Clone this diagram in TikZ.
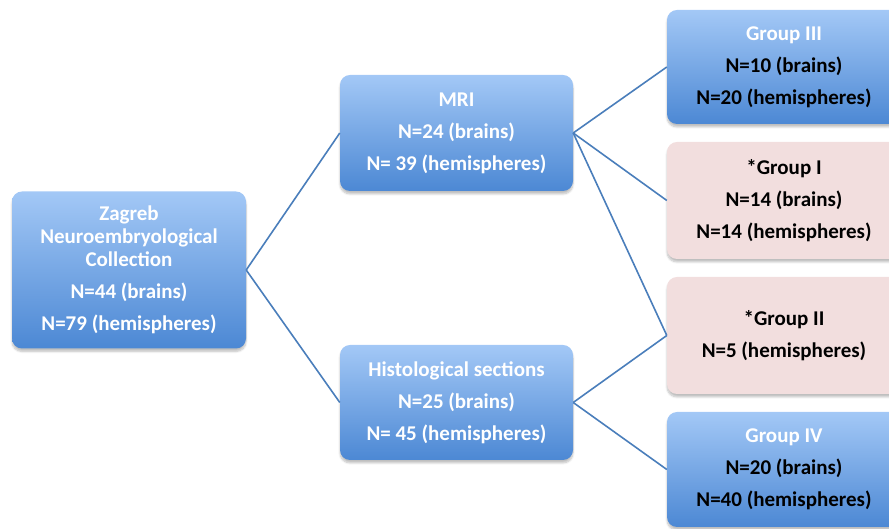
\documentclass[tikz,border=0pt]{standalone}
\usepackage{fontspec}
\setmainfont{Carlito}
\usetikzlibrary{shadows.blur}
\definecolor{boxtop}{RGB}{163,200,246}
\definecolor{boxbot}{RGB}{76,136,212}
\definecolor{pinkbox}{RGB}{242,222,222}
\definecolor{linkblue}{RGB}{74,126,187}
\newcommand{\gap}{\\[9pt]}

\begin{document}
\begin{tikzpicture}[x=1pt,y=1pt,
   box/.style={rounded corners=10pt,align=center,font=\fontsize{21}{23}\selectfont\bfseries,
      inner sep=0pt,blur shadow={shadow xshift=0pt,shadow yshift=-3pt,shadow blur steps=6,shadow opacity=25}},
   bluebox/.style={box,top color=boxtop,bottom color=boxbot,text=white},
   pinkbox/.style={box,fill=pinkbox,text=black},
   link/.style={linkblue,line width=1.6pt}]
   \useasboundingbox (0,0) rectangle (889,529);
   % first column
   \node[bluebox,minimum width=234,minimum height=157] (zagreb) at (129,259)
      {Zagreb\\Neuroembryological\\Collection\gap N=44 (brains)\gap N=79 (hemispheres)};
   % second column
   \node[bluebox,minimum width=233,minimum height=116] (mri) at (456.5,396)
      {MRI\gap N=24 (brains)\gap N= 39 (hemispheres)};
   \node[bluebox,minimum width=233,minimum height=115] (histo) at (456.5,126.5)
      {Histological sections\gap N=25 (brains)\gap N= 45 (hemispheres)};
   % third column
   \node[bluebox,minimum width=234,minimum height=114] (groupthree) at (784,462)
      {Group III\gap \textcolor{black}{N=10 (brains)}\gap \textcolor{black}{N=20 (hemispheres)}};
   \node[pinkbox,minimum width=234,minimum height=117] (groupone) at (784,328.5)
      {*Group I\gap N=14 (brains)\gap N=14 (hemispheres)};
   \node[pinkbox,minimum width=234,minimum height=117] (grouptwo) at (784,193.5)
      {*Group II\gap N=5 (hemispheres)};
   \node[bluebox,minimum width=234,minimum height=115] (groupfour) at (784,59.5)
      {Group IV\gap \textcolor{black}{N=20 (brains)}\gap \textcolor{black}{N=40 (hemispheres)}};
   % connectors
   \draw[link] (zagreb.east) -- (mri.west);
   \draw[link] (zagreb.east) -- (histo.west);
   \draw[link] (mri.east) -- (groupthree.west);
   \draw[link] (mri.east) -- (groupone.west);
   \draw[link] (mri.east) -- (grouptwo.west);
   \draw[link] (histo.east) -- (grouptwo.west);
   \draw[link] (histo.east) -- (groupfour.west);
\end{tikzpicture}
\end{document}
